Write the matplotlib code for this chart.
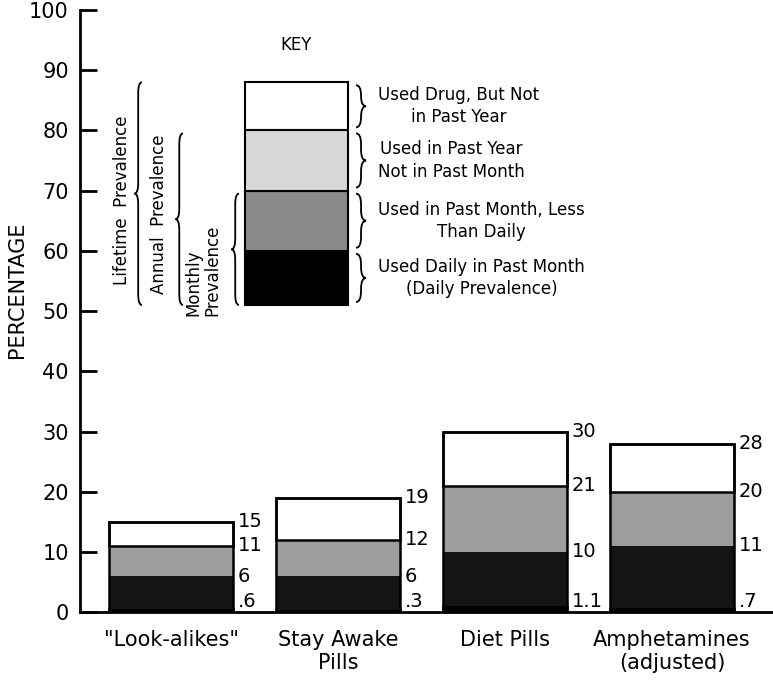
# Prevalence of stimulant use: stacked bars with a key column

import matplotlib
matplotlib.use('Agg')
import matplotlib.pyplot as plt
from matplotlib.path import Path
from matplotlib.patches import PathPatch

# Data (percent)
drugs = ['"Look-alikes"', 'Stay Awake\nPills', 'Diet Pills', 'Amphetamines\n(adjusted)']
daily = [0.6, 0.3, 1.1, 0.7]
monthly = [6, 6, 10, 11]
annual = [11, 12, 21, 20]
lifetime = [15, 19, 30, 28]
daily_txt = ['.6', '.3', '1.1', '.7']

# Key column levels and labels
key_levels = [51, 60, 70, 80, 88]
key_labels = ['Used Daily in Past Month\n(Daily Prevalence)',
              'Used in Past Month, Less\nThan Daily',
              'Used in Past Year\nNot in Past Month',
              'Used Drug, But Not\nin Past Year']

plt.rcParams['font.family'] = 'DejaVu Sans'

fig = plt.figure(figsize=(7.73, 6.84), dpi=100)
ax = fig.add_axes([0.1035, 0.105, 0.8965, 0.8805])
ax.set_xlim(-0.545, 3.605)
ax.set_ylim(0, 100)

# Bars
xs = list(range(len(drugs)))
bw = 0.737
edge = dict(edgecolor='black', linewidth=1.8)
ax.bar(xs, daily, bw, color='black', **edge)
ax.bar(xs, [m - d for m, d in zip(monthly, daily)], bw, bottom=daily,
       color='#141414', edgecolor='black', linewidth=0)
ax.bar(xs, [a - m for a, m in zip(annual, monthly)], bw, bottom=monthly,
       color='#9d9d9d', edgecolor='black', linewidth=0)
ax.bar(xs, [l - a for l, a in zip(lifetime, annual)], bw, bottom=annual,
       color='white', **edge)
ax.bar(xs, lifetime, bw, fill=False, **edge)

# Value labels to the right of each bar
for i in xs:
    xr = i + bw / 2 + 0.03
    ax.text(xr, lifetime[i], str(lifetime[i]), fontsize=14, va='center', ha='left')
    ax.text(xr, annual[i], str(annual[i]), fontsize=14, va='center', ha='left')
    ax.text(xr, monthly[i], str(monthly[i]), fontsize=14, va='center', ha='left')
    ax.text(xr, 0.2, daily_txt[i], fontsize=14, va='bottom', ha='left')

# Key column
kx, kw = 0.751, 0.617
key_colors = ['black', '#8a8a8a', '#d8d8d8', 'white']
for lo, hi, c in zip(key_levels[:-1], key_levels[1:], key_colors):
    ax.bar(kx, hi - lo, kw, bottom=lo, color=c, edgecolor='black', linewidth=1.5)
ax.text(kx, 94.2, 'KEY', fontsize=12, ha='center', va='center')


def brace(x, y0, y1, w, side):
    # curly brace from y0 to y1; side=+1 points right, -1 points left
    ym = (y0 + y1) / 2
    r = min(1.8, (y1 - y0) / 4)
    xm = x + side * w / 2
    xt = x + side * w
    verts = [(x, y1), (xm, y1), (xm, y1 - r), (xm, ym + r), (xm, ym), (xt, ym),
             (xm, ym), (xm, ym - r), (xm, y0 + r), (xm, y0), (x, y0)]
    codes = [Path.MOVETO, Path.CURVE3, Path.CURVE3, Path.LINETO, Path.CURVE3,
             Path.CURVE3, Path.CURVE3, Path.CURVE3, Path.LINETO, Path.CURVE3,
             Path.CURVE3]
    ax.add_patch(PathPatch(Path(verts, codes), fill=False, lw=1.3,
                           edgecolor='black', clip_on=False))


# Braces and descriptions right of the key
for lo, hi, lab in zip(key_levels[:-1], key_levels[1:], key_labels):
    brace(1.108, lo + 0.5, hi - 0.5, 0.06, 1)
    ax.text(1.24, (lo + hi) / 2, lab, fontsize=12, ha='left', va='center',
            multialignment='center', linespacing=1.3)

# Prevalence braces left of the key
brace(-0.174, 51, 88, 0.045, -1)
brace(0.072, 51, 79.5, 0.045, -1)
brace(0.407, 51, 69.5, 0.045, -1)
ax.text(-0.293, 68.4, 'Lifetime  Prevalence', fontsize=12, rotation=90,
        ha='center', va='center')
ax.text(-0.072, 66, 'Annual  Prevalence', fontsize=12, rotation=90,
        ha='center', va='center')
ax.text(0.19, 56.8, 'Monthly\nPrevalence', fontsize=12, rotation=90,
        ha='center', va='center', multialignment='left', linespacing=1.1)

# Axes styling
ax.spines['top'].set_visible(False)
ax.spines['right'].set_visible(False)
ax.spines['left'].set_linewidth(2)
ax.spines['bottom'].set_linewidth(2)
ax.set_yticks(range(0, 101, 10))
ax.tick_params(axis='y', direction='in', length=12, width=2, labelsize=15, pad=8)
ax.set_xticks(xs)
ax.set_xticklabels(drugs, fontsize=15, linespacing=1.2)
ax.tick_params(axis='x', length=0, pad=13)
ax.set_ylabel('PERCENTAGE', fontsize=15)
ax.yaxis.set_label_coords(-0.076, 0.535)

fig.savefig('out.png', dpi=100)
